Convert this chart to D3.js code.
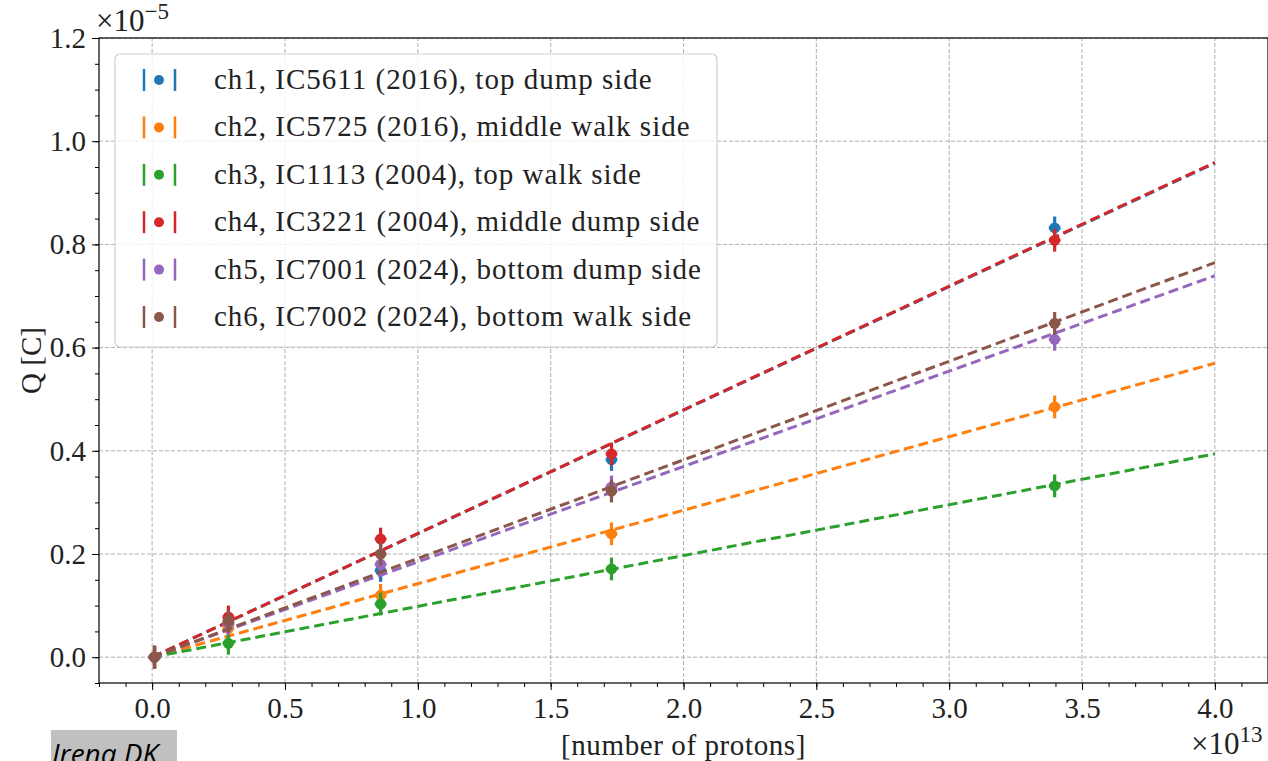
<!DOCTYPE html>
<html>
<head>
<meta charset="utf-8">
<script src="https://cdn.jsdelivr.net/npm/d3@7"></script>
<style>
  body { margin: 0; background: #fff; }
  svg { display: block; }
</style>
</head>
<body>
<svg id="chart" width="1268" height="761"></svg>
<script>
"use strict";
// protons, in units of 1e13
const protons = [0.009, 0.287, 0.86, 1.729, 3.397];
const labels = [
  'ch1, IC5611 (2016), top dump side',
  'ch2, IC5725 (2016), middle walk side',
  'ch3, IC1113 (2004), top walk side',
  'ch4, IC3221 (2004), middle dump side',
  'ch5, IC7001 (2024), bottom dump side',
  'ch6, IC7002 (2024), bottom walk side'
];
const colors = ['#1f77b4', '#ff7f0e', '#2ca02c', '#d62728', '#9467bd', '#8c564b'];
// charge, in units of 1e-5 C
const ch1 = [0.0, 0.065, 0.168, 0.383, 0.832];
const ch2 = [0.0, 0.056, 0.120, 0.239, 0.485];
const ch3 = [0.0, 0.027, 0.103, 0.171, 0.332];
const ch4 = [0.0, 0.078, 0.229, 0.394, 0.808];
const ch5 = [0.0, 0.065, 0.180, 0.330, 0.616];
const ch6 = [0.0, 0.070, 0.200, 0.322, 0.647];
const series = [ch1, ch2, ch3, ch4, ch5, ch6];
// fitted slope (1e-5 C per 1e13 protons), line through origin
const fitSlopes = [0.2394, 0.1424, 0.0985, 0.2397, 0.1848, 0.1912];
const yErr = 0.022;
const xErr = 0.022;
const fitRange = [0, 4.0];
const xTicks = [0, 0.5, 1, 1.5, 2, 2.5, 3, 3.5, 4];
const yTicks = [0, 0.2, 0.4, 0.6, 0.8, 1.0, 1.2];

const margin = {left: 99, right: 0, top: 38, bottom: 78};
const W = 1268, H = 761;
const svg = d3.select('#chart');

const x = d3.scaleLinear().domain([-0.2, 4.2]).range([margin.left, W - margin.right]);
const y = d3.scaleLinear().domain([-0.05, 1.2]).range([H - margin.bottom, margin.top]);

const serif = '"Liberation Serif", "Times New Roman", serif';

//grid
const grid = svg.append('g').attr('stroke', '#b0b0b0').attr('stroke-width', 1)
  .attr('stroke-dasharray', '4,2');
xTicks.forEach(t => {
  grid.append('line').attr('x1', x(t)).attr('x2', x(t))
    .attr('y1', y.range()[0]).attr('y2', y.range()[1]);
});
yTicks.forEach(t => {
  grid.append('line').attr('y1', y(t)).attr('y2', y(t))
    .attr('x1', x.range()[0]).attr('x2', x.range()[1]);
});

//data: points then fit, one channel after the other
const plot = svg.append('g');
series.forEach((vals, i) => {
  const c = colors[i];
  const g = plot.append('g');
  vals.forEach((v, j) => {
    g.append('line').attr('x1', x(protons[j])).attr('x2', x(protons[j]))
      .attr('y1', y(v - yErr)).attr('y2', y(v + yErr))
      .attr('stroke', c).attr('stroke-width', 3.2);
    g.append('line').attr('x1', x(protons[j] - xErr)).attr('x2', x(protons[j] + xErr))
      .attr('y1', y(v)).attr('y2', y(v))
      .attr('stroke', c).attr('stroke-width', 3.2);
    g.append('circle').attr('cx', x(protons[j])).attr('cy', y(v)).attr('r', 5.5)
      .attr('fill', c);
  });
  const line = d3.line().x(d => x(d)).y(d => y(d * fitSlopes[i]));
  g.append('path').datum(fitRange).attr('d', line)
    .attr('fill', 'none').attr('stroke', c).attr('stroke-width', 3)
    .attr('stroke-dasharray', '10,5');
});

//axes
const xAxis = svg.append('g').attr('transform', `translate(0,${y.range()[0]})`)
  .call(d3.axisBottom(x).tickValues(xTicks).tickFormat(d3.format('.1f'))
    .tickSize(7).tickPadding(6));
const xMinor = svg.append('g').attr('transform', `translate(0,${y.range()[0]})`)
  .call(d3.axisBottom(x).tickValues(d3.range(-2, 43).map(d => d / 10)).tickFormat('')
    .tickSize(4));
const yAxis = svg.append('g').attr('transform', `translate(${x.range()[0]},0)`)
  .call(d3.axisLeft(y).tickValues(yTicks).tickFormat(d3.format('.1f'))
    .tickSize(7).tickPadding(6));
const yMinor = svg.append('g').attr('transform', `translate(${x.range()[0]},0)`)
  .call(d3.axisLeft(y).tickValues(d3.range(-1, 25).map(d => d / 20)).tickFormat('')
    .tickSize(4));
[xAxis, xMinor, yAxis, yMinor].forEach(a => {
  a.attr('font-family', serif);
  a.select('.domain').remove();
  a.selectAll('.tick line').attr('stroke', '#000').attr('stroke-width', 1);
  a.selectAll('.tick text').attr('font-size', 29).attr('fill', '#222')
    .attr('font-family', serif);
});
xAxis.selectAll('.tick text').attr('dy', '0.75em');

//frame
svg.append('rect').attr('x', x.range()[0]).attr('y', y.range()[1])
  .attr('width', x.range()[1] - x.range()[0]).attr('height', y.range()[0] - y.range()[1])
  .attr('fill', 'none').attr('stroke', '#000').attr('stroke-width', 1.2);

//labels
const txt = svg.append('g').attr('font-family', serif).attr('fill', '#222');
txt.append('text').attr('x', (x.range()[0] + x.range()[1]) / 2).attr('y', 755)
  .attr('text-anchor', 'middle').attr('font-size', 29).attr('letter-spacing', 0.6)
  .text('[number of protons]');
txt.append('text').attr('transform', `translate(41,${(y.range()[0] + y.range()[1]) / 2}) rotate(-90)`)
  .attr('text-anchor', 'middle').attr('font-size', 29).text('Q [C]');
const e5 = txt.append('text').attr('x', 96).attr('y', 31).attr('font-size', 31);
e5.append('tspan').text('×10');
e5.append('tspan').attr('dy', -12).attr('font-size', 23).text('−5');
const e13 = txt.append('text').attr('x', 1191).attr('y', 754).attr('font-size', 31);
e13.append('tspan').text('×10');
e13.append('tspan').attr('dy', -12).attr('font-size', 23).text('13');

//legend
const leg = svg.append('g');
leg.append('rect').attr('x', 115).attr('y', 54).attr('width', 602).attr('height', 293)
  .attr('rx', 5).attr('fill', '#fff').attr('fill-opacity', 0.8)
  .attr('stroke', '#d0d0d0').attr('stroke-width', 1.2);
labels.forEach((l, i) => {
  const cy = 80 + i * 47.4;
  const c = colors[i];
  leg.append('line').attr('x1', 144).attr('x2', 144).attr('y1', cy - 11).attr('y2', cy + 11)
    .attr('stroke', c).attr('stroke-width', 2.5);
  leg.append('line').attr('x1', 175).attr('x2', 175).attr('y1', cy - 11).attr('y2', cy + 11)
    .attr('stroke', c).attr('stroke-width', 2.5);
  leg.append('circle').attr('cx', 159).attr('cy', cy).attr('r', 5).attr('fill', c);
  leg.append('text').attr('x', 214).attr('y', cy + 9).attr('font-family', serif)
    .attr('font-size', 29).attr('letter-spacing', 1.0).attr('fill', '#222').text(l);
});

//watermark
svg.append('rect').attr('x', 51).attr('y', 730).attr('width', 126).attr('height', 40)
  .attr('fill', '#c0c0c0');
svg.append('text').attr('x', 52).attr('y', 764).attr('font-family', '"Open Sans", sans-serif')
  .attr('font-style', 'italic').attr('font-size', 28).attr('fill', '#000').text('Irena DK');
</script>
</body>
</html>
